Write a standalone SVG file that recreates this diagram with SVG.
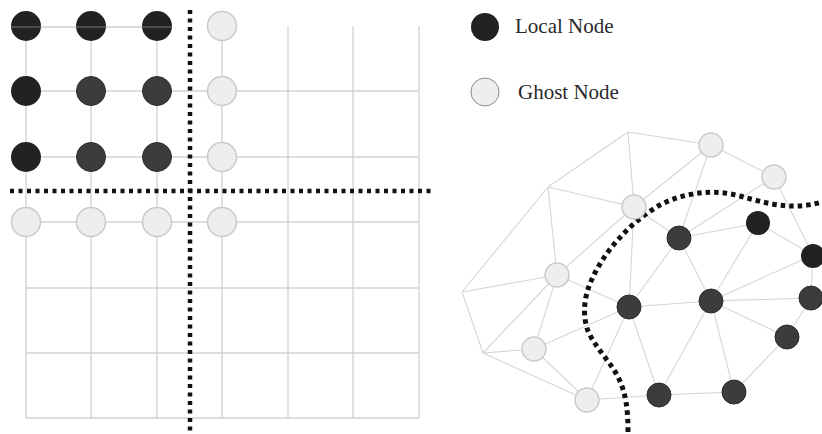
<svg xmlns="http://www.w3.org/2000/svg" width="822" height="434" viewBox="0 0 822 434">
  <style>
    .grid { stroke: #d2d2d2; stroke-width: 1.3; fill: none; }
    .mesh { stroke: #d6d6d6; stroke-width: 1.1; fill: none; }
    .cut { stroke: #111; stroke-width: 4.5; fill: none; stroke-dasharray: 4 4.5; }
    .cut2 { stroke: #111; stroke-width: 5; fill: none; stroke-dasharray: 4.5 4; }
    .local { fill: #222; }
    .inner { fill: #3c3c3c; stroke: #2c2c2c; stroke-width: 1; }
    .ghost { fill: #eeeeee; stroke: #cacaca; stroke-width: 1.5; }
    .label { font-family: "Liberation Serif", "Times New Roman", serif; font-size: 21px; fill: #2a2a2a; }
  </style>

  <rect width="822" height="434" fill="#ffffff"/>

  <!-- connectors: structured grid (left) and unstructured mesh (right) -->
  <g id="connectors">
    <path class="grid" d="M26,26 V418 M91,26 V418 M157,26 V418 M222,26 V418 M288,26 V418 M353,26 V418 M419,26 V418
                          M26,91 H419 M26,157 H419 M26,222 H419 M26,288 H419 M26,353 H419 M26,418 H419"/>
    <path class="mesh" d="
      M628,132 L711,145 M628,132 L548,187 M628,132 L634,207
      M548,187 L634,207 M548,187 L462,292 M548,187 L557,275
      M634,207 L557,275 M634,207 L711,145 M634,207 L679,238 M634,207 L629,307
      M462,292 L557,275 M462,292 L483,353 M557,275 L483,353
      M483,353 L534,349 M483,353 L587,400
      M557,275 L534,349 M534,349 L629,307 M534,349 L587,400
      M557,275 L629,307 M587,400 L629,307 M587,400 L659,395
      M629,307 L679,238 M629,307 L711,301 M629,307 L659,395
      M679,238 L711,301 M711,301 L758,223 M711,301 L811,298 M711,301 L813,255
      M711,301 L787,337 M711,301 L659,395 M711,301 L734,392
      M659,395 L734,392 M734,392 L787,337 M787,337 L811,298 M813,255 L811,298
      M711,145 L774,177 M711,145 L679,238 M774,177 L679,238 M774,177 L813,255
      M679,238 L758,223 M758,223 L813,255"/>
  </g>

  <!-- partition boundaries -->
  <g id="partition-grid">
    <line class="cut" x1="190" y1="10" x2="190" y2="434"/>
    <line class="cut" x1="10" y1="191" x2="434" y2="191"/>
  </g>
  <g id="partition-mesh">
    <path class="cut2" d="M628,432 C628,410 626,394 619,379 C611,362 596,349 588,331 C582,315 584,296 592,279 C604,252 630,222 660,205 C685,192 714,189 740,196 C765,203 792,211 822,202"/>
  </g>

  <!-- grid nodes -->
  <g id="grid-nodes">
    <g id="g-r0c0"><circle class="local" cx="26" cy="26" r="15"/></g>
    <g id="g-r0c1"><circle class="local" cx="91" cy="26" r="15"/></g>
    <g id="g-r0c2"><circle class="local" cx="157" cy="26" r="15"/></g>
    <g id="g-r0c3"><circle class="ghost" cx="222" cy="26" r="14.5"/></g>
    <g id="g-r1c0"><circle class="local" cx="26" cy="91" r="15"/></g>
    <g id="g-r1c1"><circle class="inner" cx="91" cy="91" r="14.5"/></g>
    <g id="g-r1c2"><circle class="inner" cx="157" cy="91" r="14.5"/></g>
    <g id="g-r1c3"><circle class="ghost" cx="222" cy="91" r="14.5"/></g>
    <g id="g-r2c0"><circle class="local" cx="26" cy="157" r="15"/></g>
    <g id="g-r2c1"><circle class="inner" cx="91" cy="157" r="14.5"/></g>
    <g id="g-r2c2"><circle class="inner" cx="157" cy="157" r="14.5"/></g>
    <g id="g-r2c3"><circle class="ghost" cx="222" cy="157" r="14.5"/></g>
    <g id="g-r3c0"><circle class="ghost" cx="26" cy="222" r="14.5"/></g>
    <g id="g-r3c1"><circle class="ghost" cx="91" cy="222" r="14.5"/></g>
    <g id="g-r3c2"><circle class="ghost" cx="157" cy="222" r="14.5"/></g>
    <g id="g-r3c3"><circle class="ghost" cx="222" cy="222" r="14.5"/></g>
  </g>
  <!-- top rule shows through the first row -->
  <line x1="11" y1="27" x2="172" y2="27" stroke="#9a9a9a" stroke-width="1.2" opacity="0.7"/>

  <!-- mesh nodes -->
  <g id="mesh-nodes">
    <g id="m-g1"><circle class="ghost" cx="711" cy="145" r="12"/></g>
    <g id="m-g2"><circle class="ghost" cx="774" cy="177" r="12"/></g>
    <g id="m-g3"><circle class="ghost" cx="634" cy="207" r="12"/></g>
    <g id="m-g4"><circle class="ghost" cx="557" cy="275" r="12"/></g>
    <g id="m-g5"><circle class="ghost" cx="534" cy="349" r="12"/></g>
    <g id="m-g6"><circle class="ghost" cx="587" cy="400" r="12"/></g>
    <g id="m-l1"><circle class="inner" cx="679" cy="238" r="12"/></g>
    <g id="m-l2"><circle class="local" cx="758" cy="223" r="12"/></g>
    <g id="m-l3"><circle class="local" cx="813" cy="256" r="12"/></g>
    <g id="m-l4"><circle class="inner" cx="629" cy="307" r="12"/></g>
    <g id="m-l5"><circle class="inner" cx="711" cy="301" r="12"/></g>
    <g id="m-l6"><circle class="inner" cx="811" cy="298" r="12"/></g>
    <g id="m-l7"><circle class="inner" cx="787" cy="337" r="12"/></g>
    <g id="m-l8"><circle class="inner" cx="659" cy="395" r="12"/></g>
    <g id="m-l9"><circle class="inner" cx="734" cy="392" r="12"/></g>
  </g>

  <!-- legend -->
  <g id="legend-local">
    <circle class="local" cx="485" cy="27" r="14"/>
    <text class="label" x="515" y="33">Local Node</text>
  </g>
  <g id="legend-ghost">
    <circle cx="485" cy="92" r="14" fill="#eeeeee" stroke="#8a8a8a" stroke-width="1"/>
    <text class="label" x="518" y="99">Ghost Node</text>
  </g>
</svg>
